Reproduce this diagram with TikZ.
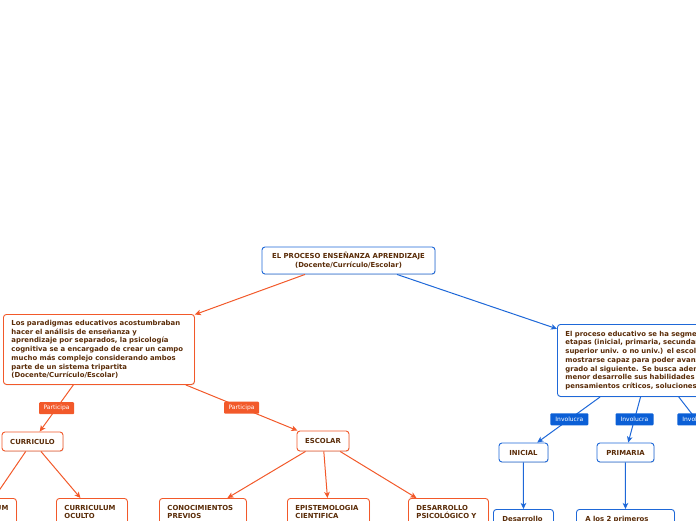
\documentclass[tikz,border=0pt]{standalone}
\usepackage{fontspec}
\setmainfont{DejaVu Sans}
\usetikzlibrary{arrows.meta,shadows}
\definecolor{org}{HTML}{F2592A}
\definecolor{blu}{HTML}{1E68D8}
\definecolor{bluf}{HTML}{0B5FD6}
\definecolor{txt}{HTML}{5A2C08}
\tikzset{
  box/.style={draw, line width=0.9pt, rounded corners=3pt, fill=white, text=txt,
    font=\fontsize{6.9}{8.7}\selectfont\bfseries, inner sep=0pt,
    drop shadow={shadow xshift=0.6pt, shadow yshift=-0.9pt, opacity=0.22, fill=gray}},
  obox/.style={box, draw=org},
  bbox/.style={box, draw=blu},
  leaf/.style={anchor=north west, align=left, inner xsep=8pt, inner ysep=6.5pt, text depth=30pt},
  oedge/.style={draw=org, line width=1pt, -{Stealth[length=6pt,width=5.5pt,inset=1.5pt]}},
  bedge/.style={draw=blu, line width=1pt, -{Stealth[length=6pt,width=5.5pt,inset=1.5pt]}},
  lab/.style={text=white, font=\fontsize{6}{7}\selectfont, rounded corners=1pt, inner sep=0pt, minimum height=12pt},
  olab/.style={lab, fill=org, minimum width=35pt},
  blab/.style={lab, fill=bluf, minimum width=38pt},
}
\begin{document}
\begin{tikzpicture}[x=1pt,y=-1pt]
\useasboundingbox (0,0) rectangle (696,520);
\clip (0,0) rectangle (696,520);

% nodes
\node[bbox, minimum width=173pt, minimum height=27pt, align=center] (root) at (348.5,260.5)
  {EL PROCESO ENSEÑANZA APRENDIZAJE\\(Docente/Currículo/Escolar)};

\node[obox, anchor=north west, text width=175pt, inner xsep=8pt, minimum height=70pt, align=left] (lb) at (3,314)
  {Los paradigmas educativos acostumbraban\\hacer el análisis de enseñanza y\\aprendizaje por separados, la psicología\\cognitiva se a encargado de crear un campo\\mucho más complejo considerando ambos\\parte de un sistema tripartita\\(Docente/Currículo/Escolar)};

\node[bbox, anchor=north west, text width=170pt, inner xsep=8pt, minimum height=72pt, align=left] (rb) at (557,324)
  {El proceso educativo se ha segmentado en\\etapas (inicial, primaria, secundaria,\\superior univ. o no univ.) el escolar debe\\mostrarse capaz para poder avanzar de un\\grado al siguiente. Se busca además que\\menor desarrolle sus habilidades\\pensamientos críticos, soluciones};

\node[obox, minimum width=61pt, minimum height=19pt] (cur) at (32.5,441.5) {CURRICULO};
\node[obox, minimum width=52pt, minimum height=20pt] (esc) at (323,441) {ESCOLAR};
\node[bbox, minimum width=49pt, minimum height=19pt] (ini) at (523.5,452.5) {INICIAL};
\node[bbox, minimum width=57pt, minimum height=19pt] (pri) at (625.5,452.5) {PRIMARIA};
\coordinate (c3) at (721.5,452);

\node[obox, leaf, align=right, text width=52pt] (cpart) at (-52,498) {CURRICULUM};
\node[obox, leaf, text width=55pt] (oc) at (56,498) {CURRICULUM\\OCULTO};
\node[obox, leaf, text width=71pt] (cp) at (159,498) {CONOCIMIENTOS\\PREVIOS};
\node[obox, leaf, text width=66pt] (ep) at (287,498) {EPISTEMOLOGIA\\CIENTIFICA};
\node[obox, leaf, text width=64pt] (dp) at (408,498) {DESARROLLO\\PSICOLÓGICO Y};
\node[bbox, leaf, inner xsep=9pt, text width=42pt] (des) at (493,509) {Desarrollo};
\node[bbox, leaf, inner xsep=9pt, text width=80pt] (alos) at (576,509) {A los 2 primeros};

% connectors
\draw[oedge] ([xshift=-43.5pt]root.south) -- (lb);
\draw[bedge] ([xshift=48.5pt]root.south) -- (rb);
\draw[oedge] (lb) -- node[olab, pos=0.5] {Participa} (cur);
\draw[oedge] (lb) -- node[olab, pos=0.5] {Participa} (esc);
\draw[bedge] (rb) -- node[blab, pos=0.49] {Involucra} (ini);
\draw[bedge] (rb) -- node[blab, pos=0.49] {Involucra} (pri);
\draw[bedge] (rb) -- node[blab, pos=0.41] {Involucra} (c3);
\draw[oedge] (cur) -- ([xshift=11.5pt]cpart.north);
\draw[oedge] (cur) -- ([xshift=-11.5pt]oc.north);
\draw[oedge] (esc) -- ([xshift=24.5pt]cp.north);
\draw[oedge] (esc) -- ([xshift=-1pt]ep.north);
\draw[oedge] (esc) -- ([xshift=-32pt]dp.north);
\draw[bedge] (ini) -- (des.north);
\draw[bedge] (pri) -- (alos.north);
\end{tikzpicture}
\end{document}
